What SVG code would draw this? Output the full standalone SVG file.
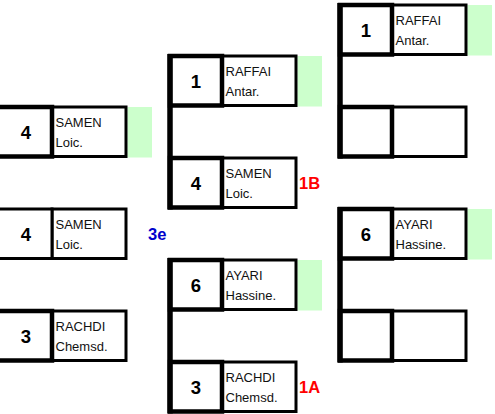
<svg xmlns="http://www.w3.org/2000/svg" width="495" height="414" viewBox="0 0 495 414">
<style>
.sc{fill:#fff;stroke:#000;stroke-width:4.5}
.nm{fill:#fff;stroke:#000;stroke-width:3}
.thin{stroke-width:3}
.win{fill:#ccffcc}
.num{font-family:"Liberation Sans",Arial,sans-serif;font-weight:bold;font-size:18.5px;text-anchor:middle;fill:#000}
.name{font-family:"Liberation Sans",Arial,sans-serif;font-size:13px;fill:#111}
.lbl{font-family:"Liberation Sans",Arial,sans-serif;font-weight:bold;font-size:16.5px}
.red{fill:#ff0000}
.blue{fill:#0000cc}
.conn{stroke:#000;stroke-width:5.5;fill:none}
</style>
<!-- left column -->
<g id="L1" transform="translate(0,107)">
<rect class="win" x="127.5" y="0" width="24.5" height="50.5"/>
<rect class="nm" x="52" y="0" width="74" height="49.5"/>
<rect class="sc" x="-6" y="0" width="58" height="49.5"/>
<text class="num" x="26" y="31.5">4</text>
<text class="name" x="55.5" y="20">SAMEN</text>
<text class="name" x="55.5" y="40">Loic.</text>
</g>
<g id="L2" transform="translate(0,209)">
<rect class="nm" x="52" y="0" width="74" height="49.5"/>
<rect class="sc thin" x="-6" y="0" width="58" height="49.5"/>
<text class="num" x="26" y="31.5">4</text>
<text class="name" x="55.5" y="20">SAMEN</text>
<text class="name" x="55.5" y="40">Loic.</text>
<text class="lbl blue" x="148" y="31">3e</text>
</g>
<g id="L3" transform="translate(0,311)">
<rect class="nm" x="52" y="0" width="74" height="49.5"/>
<rect class="sc" x="-6" y="0" width="58" height="49.5"/>
<text class="num" x="26" y="31.5">3</text>
<text class="name" x="55.5" y="20">RACHDI</text>
<text class="name" x="55.5" y="40">Chemsd.</text>
</g>
<!-- middle column -->
<g id="M1" transform="translate(170,56)">
<rect class="win" x="127.5" y="0" width="24.5" height="50.5"/>
<rect class="nm" x="52" y="0" width="74" height="49.5"/>
<rect class="sc" x="0" y="0" width="52" height="49.5"/>
<text class="num" x="26" y="31.5">1</text>
<text class="name" x="55.5" y="20">RAFFAI</text>
<text class="name" x="55.5" y="40">Antar.</text>
</g>
<g id="M2" transform="translate(170,158)">
<rect class="nm" x="52" y="0" width="74" height="49.5"/>
<rect class="sc" x="0" y="0" width="52" height="49.5"/>
<text class="num" x="26" y="31.5">4</text>
<text class="name" x="55.5" y="20">SAMEN</text>
<text class="name" x="55.5" y="40">Loic.</text>
<text class="lbl red" x="129" y="30.5">1B</text>
</g>
<g id="M3" transform="translate(170,260)">
<rect class="win" x="127.5" y="0" width="24.5" height="50.5"/>
<rect class="nm" x="52" y="0" width="74" height="49.5"/>
<rect class="sc" x="0" y="0" width="52" height="49.5"/>
<text class="num" x="26" y="31.5">6</text>
<text class="name" x="55.5" y="20">AYARI</text>
<text class="name" x="55.5" y="40">Hassine.</text>
</g>
<g id="M4" transform="translate(170,362)">
<rect class="nm" x="52" y="0" width="74" height="49.5"/>
<rect class="sc" x="0" y="0" width="52" height="49.5"/>
<text class="num" x="26" y="31.5">3</text>
<text class="name" x="55.5" y="20">RACHDI</text>
<text class="name" x="55.5" y="40">Chemsd.</text>
<text class="lbl red" x="129" y="30.5">1A</text>
</g>
<!-- right column -->
<g id="R1" transform="translate(340,5)">
<rect class="win" x="127.5" y="0" width="24.5" height="50.5"/>
<rect class="nm" x="52" y="0" width="74" height="49.5"/>
<rect class="sc" x="0" y="0" width="52" height="49.5"/>
<text class="num" x="26" y="31.5">1</text>
<text class="name" x="55.5" y="20">RAFFAI</text>
<text class="name" x="55.5" y="40">Antar.</text>
</g>
<g id="R2" transform="translate(340,107)">
<rect class="nm" x="52" y="0" width="74" height="49.5"/>
<rect class="sc" x="0" y="0" width="52" height="49.5"/>
</g>
<g id="R3" transform="translate(340,209)">
<rect class="win" x="127.5" y="0" width="24.5" height="50.5"/>
<rect class="nm" x="52" y="0" width="74" height="49.5"/>
<rect class="sc" x="0" y="0" width="52" height="49.5"/>
<text class="num" x="26" y="31.5">6</text>
<text class="name" x="55.5" y="20">AYARI</text>
<text class="name" x="55.5" y="40">Hassine.</text>
</g>
<g id="R4" transform="translate(340,311)">
<rect class="nm" x="52" y="0" width="74" height="49.5"/>
<rect class="sc" x="0" y="0" width="52" height="49.5"/>
</g>
<!-- connectors -->
<g id="connectors">
<line class="conn" x1="170" y1="54" x2="170" y2="209.5"/>
<line class="conn" x1="170" y1="258" x2="170" y2="413.5"/>
<line class="conn" x1="340" y1="3" x2="340" y2="158.5"/>
<line class="conn" x1="340" y1="207" x2="340" y2="362.5"/>
</g>
</svg>
